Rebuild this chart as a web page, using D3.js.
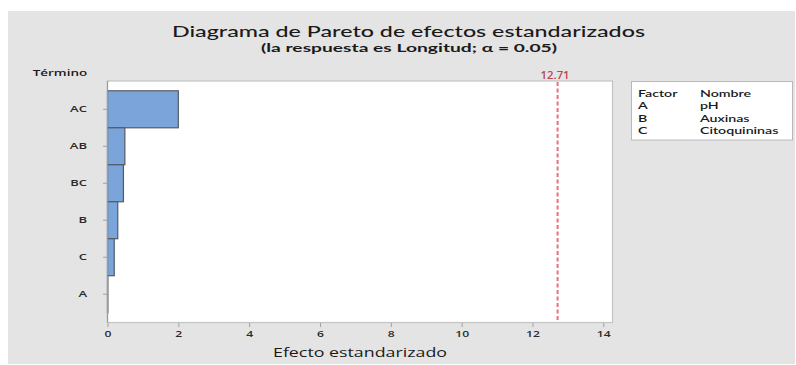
<!DOCTYPE html>
<html>
<head>
<meta charset="utf-8">
<script src="https://cdn.jsdelivr.net/npm/d3@7"></script>
<style>
  html, body { margin: 0; padding: 0; background: #fff; }
  svg { display: block; }
  text { font-family: "Open Sans", "Noto Sans", sans-serif; }
  .legend text, .heading { font-family: Lato, "Open Sans", sans-serif; }
</style>
</head>
<body>
<svg id="chart" width="796" height="365"></svg>
<script>
// Standardized effects, largest first (Pareto order)
const terms = ["AC", "AB", "BC", "B", "C", "A"];
const effects = [2.00, 0.49, 0.45, 0.29, 0.19, 0.01];
const criticalValue = 12.71;
const xTicks = [0, 2, 4, 6, 8, 10, 12, 14];

const factorCodes = ["A", "B", "C"];
const factorNames = ["pH", "Auxinas", "Citoquininas"];

const titleText = "Diagrama de Pareto de efectos estandarizados";
const subtitleText = "(la respuesta es Longitud; \u03B1 = 0.05)";
const xTitle = "Efecto estandarizado";
const yTitle = "Término";

const svg = d3.select("#chart");

// Widen glyphs horizontally around each text's own anchor point
function widen(sel, sx) {
  sel.each(function () {
    const t = d3.select(this);
    const tx = +t.attr("x") || 0;
    const ty = +t.attr("y") || 0;
    t.attr("x", 0).attr("y", 0)
      .attr("transform", `translate(${tx},${ty}) scale(${sx},1)`);
  });
}

// Panel background
svg.append("rect")
  .attr("x", 8).attr("y", 11)
  .attr("width", 787).attr("height", 353)
  .attr("fill", "#e4e4e4");

const plot = { left: 107.5, top: 81, right: 612.5, bottom: 322.5 };

const x = d3.scaleLinear()
  .domain([0, 14.26])
  .range([plot.left, plot.right]);

const y = d3.scaleBand()
  .domain(terms)
  .range([plot.top, plot.bottom])
  .paddingInner(0)
  .paddingOuter(0.265);

// Plot area
svg.append("rect")
  .attr("x", plot.left).attr("y", plot.top)
  .attr("width", plot.right - plot.left)
  .attr("height", plot.bottom - plot.top)
  .attr("fill", "#ffffff")
  .attr("stroke", "#c4c4c4")
  .attr("stroke-width", 1.2);

// Bars
svg.append("g")
  .selectAll("rect")
  .data(terms.map((t, i) => ({ term: t, value: effects[i] })))
  .join("rect")
  .attr("x", x(0))
  .attr("y", d => y(d.term))
  .attr("width", d => x(d.value) - x(0))
  .attr("height", y.bandwidth())
  .attr("fill", "#7ba5da")
  .attr("stroke", "#555a60")
  .attr("stroke-width", 1.2);

// Left spine drawn over the bars
svg.append("line")
  .attr("x1", plot.left).attr("x2", plot.left)
  .attr("y1", plot.top).attr("y2", plot.bottom)
  .attr("stroke", "#9a9a9a").attr("stroke-width", 1.2);

// Y axis
const yAxis = d3.axisLeft(y).tickSize(4).tickPadding(16);
const gy = svg.append("g")
  .attr("transform", `translate(${plot.left - 0.5},0)`)
  .call(yAxis);
gy.select(".domain").remove();
gy.selectAll(".tick line").attr("stroke", "#a0a0a0");
gy.selectAll(".tick text")
  .attr("fill", "#2a2a2a")
  .style("font-size", "9px")
  .style("font-weight", "600")
  .attr("dy", null)
  .attr("y", 3.2);
widen(gy.selectAll(".tick text"), 1.45);

// X axis
const xAxis = d3.axisBottom(x).tickValues(xTicks).tickSize(4).tickPadding(4);
const gx = svg.append("g")
  .attr("transform", `translate(0,${plot.bottom + 0.5})`)
  .call(xAxis);
gx.select(".domain").remove();
gx.selectAll(".tick line").attr("stroke", "#a0a0a0");
gx.selectAll(".tick text")
  .attr("fill", "#2a2a2a")
  .style("font-size", "9px")
  .style("font-weight", "600")
  .attr("dy", null)
  .attr("y", 13.5);
widen(gx.selectAll(".tick text"), 1.35);

// Critical value reference line
svg.append("line")
  .attr("x1", x(criticalValue)).attr("x2", x(criticalValue))
  .attr("y1", plot.top + 1).attr("y2", plot.bottom)
  .attr("stroke", "#e8707a")
  .attr("stroke-width", 2)
  .attr("stroke-dasharray", "4,2.5");

svg.append("text")
  .attr("x", x(criticalValue) - 2.5)
  .attr("y", 78.7)
  .attr("text-anchor", "middle")
  .attr("fill", "#b8474f")
  .attr("textLength", 29)
  .attr("lengthAdjust", "spacingAndGlyphs")
  .style("font-size", "10px")
  .style("font-weight", "600")
  .text(criticalValue.toFixed(2));

// Titles
svg.append("text")
  .attr("class", "heading")
  .attr("x", 408.5).attr("y", 37)
  .attr("text-anchor", "middle")
  .attr("fill", "#1a1a1a")
  .attr("textLength", 473)
  .attr("lengthAdjust", "spacingAndGlyphs")
  .style("font-size", "15px")
  .style("font-weight", "500")
  .text(titleText);

svg.append("text")
  .attr("class", "heading")
  .attr("x", 409).attr("y", 51.6)
  .attr("text-anchor", "middle")
  .attr("fill", "#1a1a1a")
  .attr("textLength", 296)
  .attr("lengthAdjust", "spacingAndGlyphs")
  .style("font-size", "11.5px")
  .style("font-weight", "700")
  .text(subtitleText);

svg.append("text")
  .attr("x", 360).attr("y", 357)
  .attr("text-anchor", "middle")
  .attr("fill", "#1a1a1a")
  .attr("textLength", 174)
  .attr("lengthAdjust", "spacingAndGlyphs")
  .style("font-size", "12.5px")
  .text(xTitle);

svg.append("text")
  .attr("x", 32.7).attr("y", 75.5)
  .attr("fill", "#1a1a1a")
  .attr("textLength", 54.5)
  .attr("lengthAdjust", "spacingAndGlyphs")
  .style("font-size", "9.5px")
  .style("font-weight", "600")
  .text(yTitle);

// Factor legend
const legend = svg.append("g").attr("class", "legend");
legend.append("rect")
  .attr("x", 631.5).attr("y", 81.5)
  .attr("width", 161).attr("height", 58.5)
  .attr("fill", "#ffffff")
  .attr("stroke", "#b8b8b8")
  .attr("stroke-width", 1);

const rowY = d3.scaleLinear().domain([0, 3]).range([96.5, 134]);
const legendRows = [["Factor", "Nombre"]].concat(factorCodes.map((c, i) => [c, factorNames[i]]));
legendRows.forEach((row, i) => {
  legend.append("text")
    .attr("x", 638).attr("y", rowY(i))
    .attr("fill", "#1a1a1a")
    .style("font-size", "10px")
    .style("font-weight", "600")
    .text(row[0]);
  legend.append("text")
    .attr("x", 700).attr("y", rowY(i))
    .attr("fill", "#1a1a1a")
    .style("font-size", "10px")
    .style("font-weight", "600")
    .text(row[1]);
});
widen(legend.selectAll("text"), 1.42);
</script>
</body>
</html>
